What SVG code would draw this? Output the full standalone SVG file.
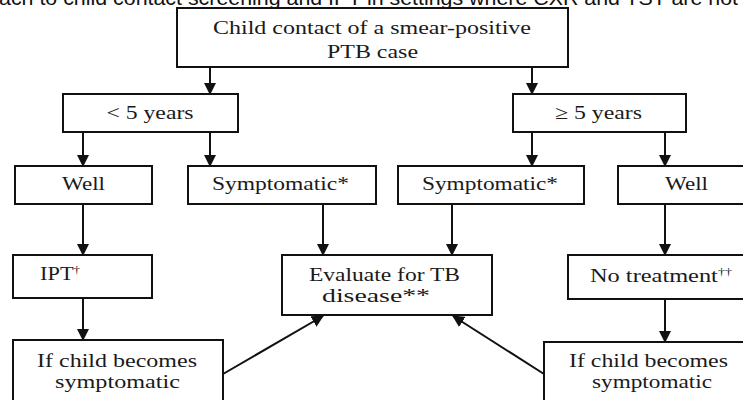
<svg xmlns="http://www.w3.org/2000/svg" width="743" height="400" viewBox="0 0 743 400">
<style>
  .box{fill:#fff;stroke:#111;stroke-width:2}
  .t{font-family:"Liberation Serif","Times New Roman",serif;font-size:19px;fill:#1a1a1a;text-anchor:middle}
  .title{font-family:"Liberation Sans",Arial,sans-serif;font-size:20px;fill:#111}
  .c{stroke:#111;stroke-width:2;fill:none;marker-end:url(#ah)}
  .sup{font-size:11px}
</style>
<defs>
  <marker id="ah" markerUnits="userSpaceOnUse" markerWidth="12" markerHeight="12" viewBox="0 0 12 12" refX="11" refY="6" orient="auto">
    <path d="M0,0 L12,6 L0,12 Z" fill="#111"/>
  </marker>
</defs>
<rect width="743" height="400" fill="#fff"/>
<text class="title" x="-1" y="5" textLength="739" lengthAdjust="spacingAndGlyphs">ach to child contact screening and IPT in settings where CXR and TST are not</text>

<g id="connectors">
  <line class="c" x1="210" y1="67" x2="210" y2="94"/>
  <line class="c" x1="532" y1="67" x2="532" y2="94"/>
  <line class="c" x1="83" y1="132" x2="83" y2="166"/>
  <line class="c" x1="210" y1="132" x2="210" y2="166"/>
  <line class="c" x1="532" y1="132" x2="532" y2="166"/>
  <line class="c" x1="665" y1="132" x2="665" y2="166"/>
  <line class="c" x1="83" y1="204" x2="83" y2="255"/>
  <line class="c" x1="323" y1="204" x2="323" y2="255"/>
  <line class="c" x1="452" y1="204" x2="452" y2="255"/>
  <line class="c" x1="665" y1="204" x2="665" y2="255"/>
  <line class="c" x1="83" y1="298" x2="83" y2="340"/>
  <line class="c" x1="665" y1="299" x2="665" y2="342"/>
  <line class="c" x1="223" y1="374" x2="323" y2="316"/>
  <line class="c" x1="544" y1="374" x2="453" y2="316"/>
</g>

<g id="root">
  <rect class="box" x="177" y="8" width="391" height="59"/>
  <text class="t" x="372" y="34" textLength="318" lengthAdjust="spacingAndGlyphs">Child contact of a smear-positive</text>
  <text class="t" x="372.5" y="58" textLength="91" lengthAdjust="spacingAndGlyphs">PTB case</text>
</g>
<g id="lt5">
  <rect class="box" x="63" y="94" width="175" height="38"/>
  <text class="t" x="150" y="119" textLength="87" lengthAdjust="spacingAndGlyphs">&lt; 5 years</text>
</g>
<g id="ge5">
  <rect class="box" x="513" y="94" width="173" height="38"/>
  <text class="t" x="598.5" y="119" textLength="87" lengthAdjust="spacingAndGlyphs">≥ 5 years</text>
</g>
<g id="well-left">
  <rect class="box" x="15" y="166" width="137" height="38"/>
  <text class="t" x="83.5" y="190" textLength="43" lengthAdjust="spacingAndGlyphs">Well</text>
</g>
<g id="symp-left">
  <rect class="box" x="188" y="166" width="188" height="38"/>
  <text class="t" x="280.5" y="190" textLength="137" lengthAdjust="spacingAndGlyphs">Symptomatic*</text>
</g>
<g id="symp-right">
  <rect class="box" x="398" y="166" width="186" height="38"/>
  <text class="t" x="490" y="190" textLength="136" lengthAdjust="spacingAndGlyphs">Symptomatic*</text>
</g>
<g id="well-right">
  <rect class="box" x="618" y="166" width="140" height="38"/>
  <text class="t" x="686.5" y="190" textLength="43" lengthAdjust="spacingAndGlyphs">Well</text>
</g>
<g id="ipt">
  <rect class="box" x="13" y="255" width="139" height="43"/>
  <text class="t" x="60" y="280" textLength="40" lengthAdjust="spacingAndGlyphs">IPT<tspan class="sup" dy="-7">†</tspan></text>
</g>
<g id="evaluate">
  <rect class="box" x="282" y="255" width="210" height="60"/>
  <text class="t" x="384.5" y="281" textLength="151" lengthAdjust="spacingAndGlyphs">Evaluate for TB</text>
  <text class="t" x="376" y="302" textLength="108" lengthAdjust="spacingAndGlyphs">disease**</text>
</g>
<g id="no-treatment">
  <rect class="box" x="568" y="255" width="192" height="44"/>
  <text class="t" x="661" y="282" textLength="142" lengthAdjust="spacingAndGlyphs">No treatment<tspan class="sup" dy="-7">††</tspan></text>
</g>
<g id="ifchild-left">
  <rect class="box" x="13" y="340" width="210" height="64"/>
  <text class="t" x="117" y="367" textLength="160" lengthAdjust="spacingAndGlyphs">If child becomes</text>
  <text class="t" x="117.5" y="388" textLength="125" lengthAdjust="spacingAndGlyphs">symptomatic</text>
</g>
<g id="ifchild-right">
  <rect class="box" x="544" y="342" width="212" height="62"/>
  <text class="t" x="648.5" y="367" textLength="159" lengthAdjust="spacingAndGlyphs">If child becomes</text>
  <text class="t" x="652" y="388" textLength="120" lengthAdjust="spacingAndGlyphs">symptomatic</text>
</g>
</svg>
